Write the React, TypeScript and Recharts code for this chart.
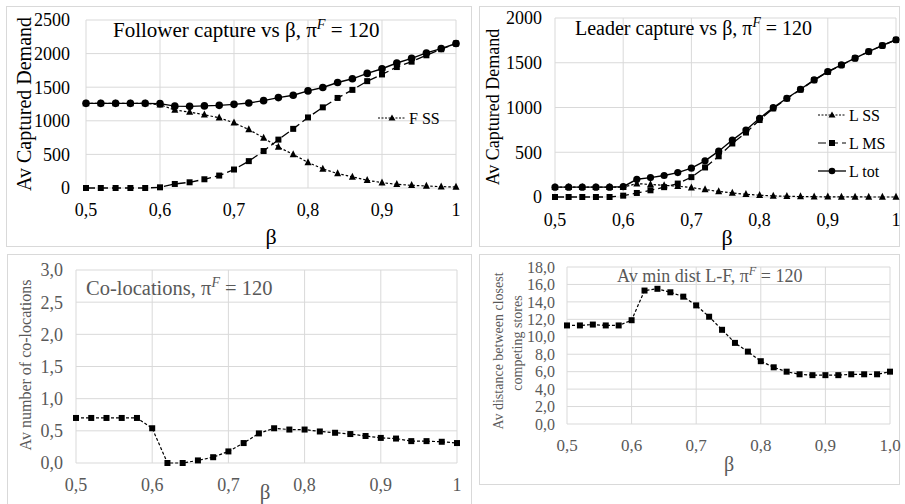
import React from 'react';
import { LineChart, Line, XAxis, YAxis, CartesianGrid } from 'recharts';

const betas = [0.5, 0.52, 0.54, 0.56, 0.58, 0.6, 0.62, 0.64, 0.66, 0.68, 0.7, 0.72, 0.74, 0.76, 0.78, 0.8, 0.82, 0.84, 0.86, 0.88, 0.9, 0.92, 0.94, 0.96, 0.98, 1.0];
const betaTicks = [0.5, 0.6, 0.7, 0.8, 0.9, 1.0];

const fSS = [1260, 1260, 1260, 1260, 1260, 1240, 1160, 1130, 1090, 1045, 970, 870, 745, 610, 500, 380, 285, 215, 165, 115, 80, 55, 40, 30, 20, 15];
const fMS = [0, 0, 0, 0, 0, 10, 60, 85, 130, 185, 275, 400, 550, 720, 880, 1050, 1200, 1340, 1460, 1590, 1690, 1800, 1880, 1975, 2065, 2150];
const fTot = [1260, 1260, 1260, 1260, 1260, 1255, 1218, 1215, 1222, 1230, 1245, 1265, 1300, 1345, 1380, 1445, 1495, 1570, 1625, 1705, 1775, 1860, 1930, 2010, 2075, 2150];
const fTicks = [0, 500, 1000, 1500, 2000, 2500];

const lSS = [110, 110, 110, 110, 110, 110, 150, 140, 130, 120, 105, 83, 62, 45, 30, 20, 12, 8, 5, 3, 2, 1, 1, 0, 0, 0];
const lMS = [0, 0, 0, 0, 0, 15, 45, 75, 110, 150, 222, 330, 455, 598, 720, 860, 990, 1100, 1200, 1305, 1398, 1474, 1550, 1624, 1692, 1756];
const lTot = [110, 110, 110, 110, 110, 115, 198, 217, 240, 273, 322, 404, 512, 636, 748, 879, 998, 1103, 1204, 1308, 1401, 1476, 1551, 1625, 1693, 1757];
const lTicks = [0, 500, 1000, 1500, 2000];

const coloc = [0.7, 0.7, 0.7, 0.7, 0.7, 0.54, 0.0, 0.0, 0.04, 0.09, 0.18, 0.31, 0.46, 0.54, 0.52, 0.52, 0.49, 0.47, 0.45, 0.42, 0.39, 0.38, 0.34, 0.34, 0.33, 0.31];
const colocTicks = [0, 0.5, 1, 1.5, 2, 2.5, 3];

const dist = [11.3, 11.3, 11.4, 11.3, 11.3, 11.9, 15.3, 15.5, 15.1, 14.6, 13.6, 12.3, 10.8, 9.3, 8.3, 7.2, 6.5, 6.0, 5.7, 5.6, 5.6, 5.6, 5.7, 5.7, 5.7, 6.0];
const distTicks = [0, 2, 4, 6, 8, 10, 12, 14, 16, 18];

const followerLegend = ['F SS'];
const leaderLegend = ['L SS', 'L MS', 'L tot'];

const followerData = betas.map((b, i) => ({ beta: b, ss: fSS[i], ms: fMS[i], tot: fTot[i] }));
const leaderData = betas.map((b, i) => ({ beta: b, ss: lSS[i], ms: lMS[i], tot: lTot[i] }));
const colocData = betas.map((b, i) => ({ beta: b, v: coloc[i] }));
const distData = betas.map((b, i) => ({ beta: b, v: dist[i] }));

const FONT = 'Liberation Serif, DejaVu Serif, serif';
const GRID = '#d9d9d9';
const GREY = '#595959';

const fmtX = (v: number) => (Math.abs(v - 1) < 1e-9 ? '1' : v.toFixed(1).replace('.', ','));
const fmtX1 = (v: number) => v.toFixed(1).replace('.', ',');
const fmt1 = (v: number) => v.toFixed(1).replace('.', ',');

const sq = (size: number) => (p: any) => (
  <rect key={`s${p.index}`} x={p.cx - size / 2} y={p.cy - size / 2} width={size} height={size} fill="#000" />
);
const tri = (size: number) => (p: any) => (
  <polygon
    key={`t${p.index}`}
    points={`${p.cx},${p.cy - size * 0.6} ${p.cx - size / 2},${p.cy + size * 0.4} ${p.cx + size / 2},${p.cy + size * 0.4}`}
    fill="#000"
  />
);
const circ = (r: number) => (p: any) => <circle key={`c${p.index}`} cx={p.cx} cy={p.cy} r={r} fill="#000" />;

const LegendIcon = ({ kind, x, y }: any) => {
  if (kind === 'ss')
    return (
      <g>
        <line x1={x} y1={y} x2={x + 28} y2={y} stroke="#000" strokeWidth={1} strokeDasharray="2 1.5" />
        <polygon points={`${x + 14},${y - 3.6} ${x + 10.5},${y + 2.4} ${x + 17.5},${y + 2.4}`} fill="#000" />
      </g>
    );
  if (kind === 'ms')
    return (
      <g>
        <line x1={x} y1={y} x2={x + 28} y2={y} stroke="#000" strokeWidth={1.2} strokeDasharray="8 4" />
        <rect x={x + 11} y={y - 3} width={6} height={6} fill="#000" />
      </g>
    );
  return (
    <g>
      <line x1={x} y1={y} x2={x + 28} y2={y} stroke="#000" strokeWidth={1.3} />
      <circle cx={x + 14} cy={y} r={3.3} fill="#000" />
    </g>
  );
};

const Title = ({ x, y, size, color, pre, post }: any) => (
  <text x={x} y={y} fontFamily={FONT} fontSize={size} fill={color}>
    <tspan>{pre}</tspan>
    <tspan fontStyle="italic" fontSize={size * 0.68} dy={-size * 0.38}>F</tspan>
    <tspan dy={size * 0.38}>{post}</tspan>
  </text>
);

const RotText = ({ x, y, size, color, children }: any) => (
  <text
    transform={`translate(${x},${y}) rotate(-90)`}
    textAnchor="middle"
    dominantBaseline="central"
    fontFamily={FONT}
    fontSize={size}
    fill={color}
  >
    {children}
  </text>
);

const Beta = ({ x, y, size, color }: any) => (
  <text x={x} y={y} textAnchor="middle" dominantBaseline="central" fontFamily={FONT} fontSize={size} fill={color}>
    β
  </text>
);

const panelBox = (left: number, top: number, width: number, height: number) => ({
  position: 'absolute' as const,
  left,
  top,
  width,
  height,
  border: `1px solid ${GRID}`,
  boxSizing: 'border-box' as const,
});

export default function App() {
  return (
    <div style={{ position: 'absolute', left: 0, top: 0, width: 905, height: 504, background: '#fff', overflow: 'hidden', fontFamily: FONT }}>
      <div style={panelBox(6, 6, 466, 241)} />
      <div style={panelBox(479, 6, 421, 241)} />
      <div style={panelBox(7, 254, 465, 260)} />
      <div style={panelBox(479, 254, 421, 231)} />

      {/* Panel 1: Follower */}
      <div style={{ position: 'absolute', left: 0, top: 0 }}>
        <LineChart width={472} height={247} data={followerData} margin={{ top: 20, right: 16, bottom: 29, left: 0 }}>
          <CartesianGrid stroke={GRID} strokeWidth={1} />
          <XAxis
            type="number"
            dataKey="beta"
            domain={[0.5, 1]}
            ticks={betaTicks}
            interval={0}
            tickFormatter={fmtX}
            axisLine={false}
            tickLine={false}
            tickSize={0}
            tickMargin={15}
            height={30}
            tick={{ fontFamily: FONT, fontSize: 18, fill: '#000' }}
          />
          <YAxis
            type="number"
            domain={[0, 2500]}
            ticks={fTicks}
            interval={0}
            width={86}
            axisLine={false}
            tickLine={false}
            tickSize={0}
            tickMargin={16}
            tick={{ fontFamily: FONT, fontSize: 18, fill: '#000' }}
          />
          <Line dataKey="ss" name="F SS" stroke="#000" strokeWidth={1.2} strokeDasharray="2.5 2" dot={tri(7)} isAnimationActive={false} />
          <Line dataKey="ms" name="F MS" stroke="#000" strokeWidth={1.3} strokeDasharray="9 4" dot={sq(6)} isAnimationActive={false} />
          <Line dataKey="tot" name="F tot" stroke="#000" strokeWidth={1.4} dot={circ(3.8)} isAnimationActive={false} />
        </LineChart>
      </div>

      {/* Panel 2: Leader */}
      <div style={{ position: 'absolute', left: 479, top: 0 }}>
        <LineChart width={426} height={247} data={leaderData} margin={{ top: 18, right: 9, bottom: 20, left: 0 }}>
          <CartesianGrid stroke={GRID} strokeWidth={1} />
          <XAxis
            type="number"
            dataKey="beta"
            domain={[0.5, 1]}
            ticks={betaTicks}
            interval={0}
            tickFormatter={fmtX}
            axisLine={false}
            tickLine={false}
            tickSize={0}
            tickMargin={16}
            height={30}
            tick={{ fontFamily: FONT, fontSize: 18, fill: '#000' }}
          />
          <YAxis
            type="number"
            domain={[0, 2000]}
            ticks={lTicks}
            interval={0}
            width={76}
            axisLine={false}
            tickLine={false}
            tickSize={0}
            tickMargin={13}
            tick={{ fontFamily: FONT, fontSize: 18, fill: '#000' }}
          />
          <Line dataKey="ss" name="L SS" stroke="#000" strokeWidth={1.2} strokeDasharray="2.5 2" dot={tri(7)} isAnimationActive={false} />
          <Line dataKey="ms" name="L MS" stroke="#000" strokeWidth={1.3} strokeDasharray="9 4" dot={sq(6)} isAnimationActive={false} />
          <Line dataKey="tot" name="L tot" stroke="#000" strokeWidth={1.4} dot={circ(3.6)} isAnimationActive={false} />
        </LineChart>
      </div>

      {/* Panel 3: Co-locations */}
      <div style={{ position: 'absolute', left: 0, top: 254 }}>
        <LineChart width={472} height={250} data={colocData} margin={{ top: 16, right: 15, bottom: 11, left: 0 }}>
          <CartesianGrid stroke={GRID} strokeWidth={1} />
          <XAxis
            type="number"
            dataKey="beta"
            domain={[0.5, 1]}
            ticks={betaTicks}
            interval={0}
            tickFormatter={fmtX}
            axisLine={false}
            tickLine={false}
            tickSize={0}
            tickMargin={15}
            height={30}
            tick={{ fontFamily: FONT, fontSize: 18, fill: GREY }}
          />
          <YAxis
            type="number"
            domain={[0, 3]}
            ticks={colocTicks}
            interval={0}
            tickFormatter={fmt1}
            width={76}
            axisLine={false}
            tickLine={false}
            tickSize={0}
            tickMargin={13}
            tick={{ fontFamily: FONT, fontSize: 18, fill: GREY }}
          />
          <Line dataKey="v" name="Co-locations" stroke="#000" strokeWidth={1.2} strokeDasharray="3 2" dot={sq(6)} isAnimationActive={false} />
        </LineChart>
      </div>

      {/* Panel 4: Min distance */}
      <div style={{ position: 'absolute', left: 479, top: 254 }}>
        <LineChart width={426} height={231} data={distData} margin={{ top: 13, right: 15, bottom: 31, left: 0 }}>
          <CartesianGrid stroke={GRID} strokeWidth={1} />
          <XAxis
            type="number"
            dataKey="beta"
            domain={[0.5, 1]}
            ticks={betaTicks}
            interval={0}
            tickFormatter={fmtX1}
            axisLine={false}
            tickLine={false}
            tickSize={0}
            tickMargin={15}
            height={30}
            tick={{ fontFamily: FONT, fontSize: 17, fill: GREY }}
          />
          <YAxis
            type="number"
            domain={[0, 18]}
            ticks={distTicks}
            interval={0}
            tickFormatter={fmt1}
            width={88}
            axisLine={false}
            tickLine={false}
            tickSize={0}
            tickMargin={12}
            tick={{ fontFamily: FONT, fontSize: 16, fill: GREY }}
          />
          <Line dataKey="v" name="Min dist" stroke="#000" strokeWidth={1.2} strokeDasharray="3 2" dot={sq(6)} isAnimationActive={false} />
        </LineChart>
      </div>

      {/* Text overlay: titles, axis titles, legends */}
      <svg width={905} height={504} style={{ position: 'absolute', left: 0, top: 0, pointerEvents: 'none' }}>
        <Title x={113} y={37} size={21} color="#000" pre="Follower capture vs β, π" post=" = 120" />
        <RotText x={24} y={104} size={20} color="#000">Av Captured Demand</RotText>
        <Beta x={271} y={236} size={22} color="#000" />
        <LegendIcon kind="ss" x={378} y={118} />
        <text x={409} y={118} dominantBaseline="central" fontFamily={FONT} fontSize={16} fill="#000">{followerLegend[0]}</text>

        <Title x={575} y={35} size={20} color="#000" pre="Leader capture vs β, π" post=" = 120" />
        <RotText x={493} y={107} size={18} color="#000">Av Captured Demand</RotText>
        <Beta x={727} y={237} size={22} color="#000" />
        {['ss', 'ms', 'tot'].map((k, i) => (
          <g key={k}>
            <LegendIcon kind={k} x={818} y={115 + i * 28} />
            <text x={849} y={115 + i * 28} dominantBaseline="central" fontFamily={FONT} fontSize={16} fill="#000">{leaderLegend[i]}</text>
          </g>
        ))}

        <Title x={86} y={295} size={20.5} color={GREY} pre="Co-locations, π" post=" = 120" />
        <RotText x={25} y={365} size={16} color={GREY}>Av number of co-locations</RotText>
        <Beta x={265} y={492} size={21} color={GREY} />

        <Title x={617} y={282} size={18} color={GREY} pre="Av min dist L-F, π" post=" = 120" />
        <RotText x={498} y={351} size={14} color={GREY}>Av distance between closest</RotText>
        <RotText x={517} y={343} size={14} color={GREY}>competing stores</RotText>
        <Beta x={729} y={464} size={20} color={GREY} />
      </svg>
    </div>
  );
}
